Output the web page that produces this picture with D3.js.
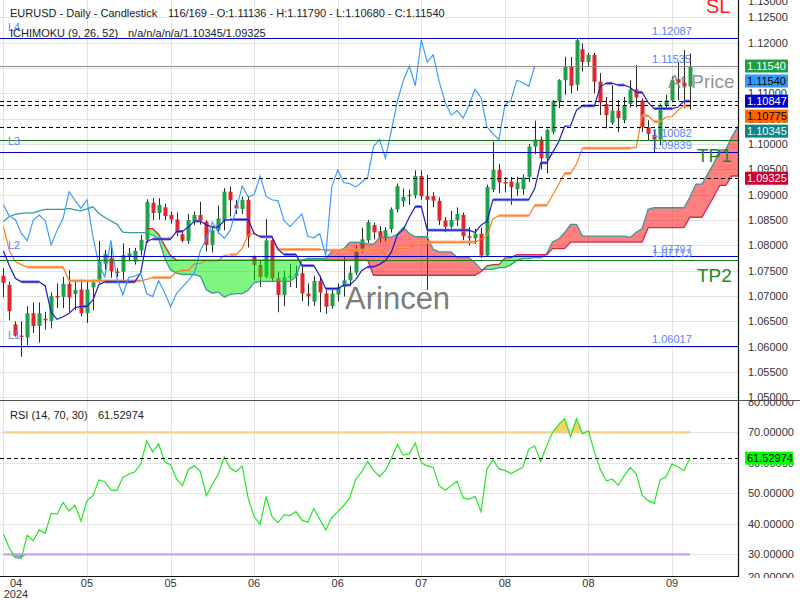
<!DOCTYPE html>
<html><head><meta charset="utf-8">
<script src="https://cdn.jsdelivr.net/npm/d3@7"></script>
<style>
html,body{margin:0;padding:0;background:#fff;}
svg{display:block;font-family:"Liberation Sans",Arial,sans-serif;}
</style></head><body>
<svg id="chart" width="800" height="600"></svg>
<script>
// ---------------- DATA ----------------
const openP = [1.0740,1.0722,1.0644,1.0622,1.0618,1.0666,1.0641,1.0655,1.0651,1.0700,
 1.0698,1.0724,1.0704,1.0713,1.0666,1.0717,1.0730,1.0764,1.0775,1.0748,
 1.0748,1.0779,1.0768,1.0790,1.0811,1.0884,1.0864,1.0875,1.0860,1.0851,
 1.0822,1.0809,1.0847,1.0860,1.0847,1.0801,1.0830,1.0849,1.0906,1.0880,
 1.0872,1.0890,1.0778,1.0761,1.0738,1.0810,1.0735,1.0702,1.0737,1.0739,
 1.0745,1.0705,1.0689,1.0730,1.0705,1.0680,1.0703,1.0718,1.0731,1.0746,
 1.0790,1.0810,1.0840,1.0828,1.0814,1.0832,1.0871,1.0887,1.0897,1.0899,
 1.0937,1.0897,1.0897,1.0888,1.0849,1.0837,1.0850,1.0860,1.0818,1.0814,
 1.0823,1.0780,1.0910,1.0949,1.0925,1.0926,1.0911,1.0911,1.0935,1.0995,
 1.1009,1.0972,1.1024,1.1084,1.1126,1.1154,1.1117,1.1187,1.1162,1.1176,
 1.1123,1.1079,1.1042,1.1066,1.1047,1.1079,1.1108,1.1086,1.1033,1.1018,
 1.1009,1.1077,1.1086,1.1128,1.1121,1.11136];
const highP = [1.0755,1.0728,1.0650,1.0650,1.0680,1.0687,1.0687,1.0669,1.0707,1.0725,
 1.0738,1.0751,1.0731,1.0733,1.0732,1.0733,1.0809,1.0791,1.0800,1.0755,
 1.0804,1.0795,1.0795,1.0820,1.0891,1.0893,1.0893,1.0882,1.0867,1.0865,
 1.0830,1.0862,1.0867,1.0886,1.0850,1.0838,1.0879,1.0913,1.0916,1.0890,
 1.0896,1.0896,1.0780,1.0771,1.0852,1.0812,1.0748,1.0750,1.0764,1.0760,
 1.0762,1.0725,1.0740,1.0740,1.0715,1.0712,1.0725,1.0778,1.0760,1.0800,
 1.0835,1.0850,1.0845,1.0838,1.0836,1.0875,1.0922,1.0912,1.0910,1.0948,
 1.0948,1.0939,1.0905,1.0895,1.0856,1.0868,1.0875,1.0865,1.0836,1.0833,
 1.0835,1.0920,1.1005,1.0961,1.0935,1.0935,1.0935,1.0940,1.1000,1.1046,
 1.1015,1.1030,1.1087,1.1128,1.1172,1.1172,1.12087,1.1199,1.1180,1.1180,
 1.1140,1.1093,1.1116,1.1087,1.1093,1.1126,1.1156,1.1090,1.1047,1.1028,
 1.1080,1.1097,1.1133,1.1162,1.11855,1.11790];
const lowP = [1.0698,1.0652,1.0620,1.0580,1.0603,1.0627,1.0608,1.0634,1.0636,1.0676,
 1.0676,1.0669,1.0672,1.0660,1.0647,1.0672,1.0725,1.0751,1.0736,1.0738,
 1.0732,1.0768,1.0762,1.0780,1.0805,1.0850,1.0851,1.0850,1.0843,1.0818,
 1.0806,1.0803,1.0840,1.0841,1.0788,1.0786,1.0823,1.0830,1.0857,1.0862,
 1.0862,1.0796,1.0731,1.0718,1.0735,1.0728,1.0668,1.0680,1.0718,1.0716,
 1.0690,1.0680,1.0680,1.0668,1.0665,1.0675,1.0690,1.0699,1.0720,1.0741,
 1.0785,1.0805,1.0812,1.0805,1.0808,1.0825,1.0865,1.0876,1.0880,1.0893,
 1.0890,1.0712,1.0875,1.0840,1.0826,1.0833,1.0838,1.0810,1.0800,1.0803,
 1.0775,1.0778,1.0905,1.0903,1.0905,1.0880,1.0898,1.0900,1.0925,1.0980,
 1.0950,1.0942,1.1020,1.1071,1.1097,1.1100,1.1105,1.1143,1.1153,1.1100,
 1.1057,1.1031,1.1038,1.1024,1.1041,1.1072,1.1072,1.1024,1.1008,1.09839,
 1.0998,1.1070,1.1084,1.1086,1.1070,1.10680];
const closeP = [1.0726,1.0670,1.0622,1.0619,1.0666,1.0641,1.0666,1.0652,1.0700,1.0697,
 1.0724,1.0697,1.0712,1.0666,1.0713,1.0727,1.0768,1.0783,1.0749,1.0746,
 1.0781,1.0784,1.0789,1.0811,1.0886,1.0864,1.0880,1.0858,1.0851,1.0824,
 1.0809,1.0850,1.0860,1.0849,1.0801,1.0830,1.0853,1.0906,1.0889,1.0873,
 1.0890,1.0817,1.0761,1.0738,1.0810,1.0735,1.0702,1.0737,1.0739,1.0745,
 1.0705,1.0699,1.0730,1.0707,1.0679,1.0705,1.0718,1.0731,1.0746,1.0790,
 1.0812,1.0846,1.0826,1.0814,1.0830,1.0871,1.0917,1.0896,1.0900,1.0937,
 1.0897,1.0890,1.0888,1.0849,1.0837,1.0850,1.0862,1.0818,1.0815,1.0823,
 1.0780,1.0915,1.0949,1.0924,1.0922,1.0915,1.0924,1.0934,1.0995,1.1009,
 1.0972,1.1028,1.1085,1.1126,1.1154,1.1115,1.1205,1.1162,1.1176,1.1123,
 1.1082,1.1057,1.1066,1.1051,1.1077,1.1108,1.1092,1.1034,1.1020,1.1009,
 1.1077,1.1086,1.1126,1.1121,1.1114,1.11540];

const tenkan = [1.0789,1.0760,1.0735,1.0728,1.0728,1.0728,1.0728,1.0720,1.06675,1.0654,
 1.0659,1.06655,1.0677,1.06795,1.06795,1.06925,1.07225,1.0728,1.0728,1.0728,
 1.0728,1.0728,1.0728,1.0746,1.0808,1.08125,1.08125,1.08125,1.08125,1.08275,
 1.08275,1.08365,1.0848,1.0848,1.08405,1.0836,1.0836,1.08495,1.0851,1.0851,
 1.0851,1.0851,1.08235,1.0817,1.0817,1.0817,1.0792,1.0782,1.0782,1.0782,
 1.0760,1.0760,1.0760,1.0740,1.07145,1.07145,1.07145,1.07215,1.07215,1.07325,
 1.0750,1.07575,1.07575,1.07625,1.0770,1.0787,1.0821,1.08315,1.0856,1.08765,
 1.08765,1.0830,1.0830,1.0830,1.0830,1.0830,1.0830,1.0830,1.0830,1.08255,
 1.0840,1.08475,1.0890,1.0890,1.0890,1.0890,1.0890,1.0890,1.0890,1.0912,
 1.0963,1.0963,1.09835,1.1004,1.1035,1.1036,1.10669,1.10754,1.10754,1.10754,
 1.11144,1.11199,1.11199,1.11164,1.11164,1.11115,1.1102,1.1102,1.1082,1.1070,
 1.1070,1.1070,1.1070,1.1073,1.10847,1.10847];
const kijun = [1.0837,1.0790,1.0768,1.0762,1.0757,1.0757,1.0757,1.0757,1.0757,1.0757,
 1.0757,1.0730,1.0730,1.0730,1.0730,1.0730,1.0730,1.0730,1.0730,1.0730,
 1.0730,1.0730,1.0730,1.0730,1.0733,1.07365,1.07365,1.07365,1.07365,1.0748,
 1.07505,1.07505,1.07635,1.07645,1.0770,1.0770,1.0770,1.0780,1.07815,1.07815,
 1.0794,1.08205,1.08235,1.0817,1.0817,1.0817,1.0792,1.0792,1.0792,1.0792,
 1.0792,1.0792,1.0792,1.0792,1.07905,1.07905,1.07905,1.07905,1.07905,1.07905,
 1.07905,1.07905,1.07905,1.07905,1.07805,1.07805,1.07935,1.07935,1.07935,1.08065,
 1.08065,1.08065,1.08065,1.08065,1.08065,1.08065,1.08065,1.08065,1.08065,1.08065,
 1.08115,1.0819,1.0852,1.08585,1.08585,1.08585,1.08585,1.08585,1.08585,1.0879,
 1.0879,1.0879,1.08995,1.0920,1.0942,1.0942,1.09604,1.09919,1.09919,1.09919,
 1.09919,1.09919,1.09919,1.09919,1.09919,1.09919,1.09934,1.10559,1.10559,1.10444,
 1.10444,1.10534,1.10544,1.10669,1.10754,1.10754];
// cloud spans, indexed by bar position (includes 26 bars projected ahead)
const spanA = [1.0847,1.0857,1.0861,1.0863,1.0864,1.0864,1.0868,1.0871,1.0871,1.0871,
 1.0871,1.0873,1.0870,1.0868,1.0872,1.0876,1.0863,1.0855,1.0848,1.0842,
 1.0826,1.0825,1.0825,1.0825,1.0825,1.0820,1.0813,1.0775,1.07515,1.0745,
 1.07425,1.07425,1.07425,1.07385,1.07123,1.07055,1.0708,1.06978,1.07035,1.07048,
 1.07048,1.07113,1.07263,1.0729,1.0729,1.0729,1.0729,1.0729,1.0729,1.0738,
 1.07705,1.07745,1.07745,1.07745,1.07745,1.07878,1.0789,1.07935,1.08058,1.08063,
 1.08053,1.0803,1.0803,1.08148,1.08163,1.08163,1.08225,1.08358,1.08235,1.0817,
 1.0817,1.0817,1.0792,1.0787,1.0787,1.0787,1.0776,1.0776,1.0776,1.0766,
 1.07525,1.07525,1.07525,1.0756,1.0756,1.07615,1.07703,1.0774,1.0774,1.07765,
 1.07753,1.07838,1.08073,1.08125,1.08248,1.08415,1.08415,1.08183,1.08183,1.08183,
 1.08183,1.08183,1.08183,1.08183,1.08183,1.0816,1.08258,1.08333,1.0871,1.08743,
 1.08743,1.08743,1.08743,1.08743,1.08743,1.08955,1.0921,1.0921,1.09415,1.0962,
 1.09885,1.0989,1.10137,1.10337,1.10337];
const spanB = [null,null,null,null,null,null,null,null,null,null,
 null,null,null,null,null,null,null,null,null,null,
 null,null,null,null,1.0833,1.0833,1.0822,1.0800,1.0780,1.0771,
 1.0771,1.0771,1.0771,1.0771,1.0771,1.0771,1.0771,1.0771,1.0771,1.0771,
 1.0771,1.0771,1.0771,1.0771,1.0771,1.0771,1.0771,1.0771,1.0771,1.0771,
 1.0771,1.0771,1.0771,1.0771,1.0771,1.0771,1.0771,1.0771,1.0771,1.0771,
 1.0771,1.0771,1.0741,1.0741,1.0741,1.0741,1.0741,1.0741,1.0741,1.0741,
 1.0741,1.0741,1.0741,1.0741,1.0741,1.0741,1.0741,1.0741,1.0741,1.0741,
 1.0748,1.07595,1.0762,1.0762,1.0775,1.0776,1.07815,1.07815,1.07815,1.07815,
 1.07815,1.07815,1.07935,1.07935,1.07935,1.08065,1.08065,1.08065,1.08065,1.08065,
 1.08065,1.08065,1.08065,1.08065,1.08065,1.08065,1.08065,1.08065,1.0835,1.0835,
 1.0835,1.0835,1.0835,1.0835,1.0835,1.08555,1.08555,1.08555,1.0876,1.08965,
 1.09185,1.09185,1.09369,1.09369,1.09369];
const rsiValues = [36.7,32.0,28.9,28.7,36.3,34.4,38.0,36.9,43.4,43.2,
 47.0,44.2,46.1,40.9,47.6,49.2,54.4,53.8,51.1,50.9,
 55.2,56.3,57.0,59.6,67.2,63.6,66.2,60.4,59.3,54.7,
 52.5,57.9,59.0,57.1,49.2,52.9,56.3,62.0,58.2,57.1,
 59.0,48.4,42.3,39.8,48.9,42.3,40.4,42.9,42.7,44.0,
 41.2,40.5,45.0,41.5,38.0,42.0,44.0,46.0,48.5,54.5,
 57.0,60.5,57.5,55.5,57.5,61.5,66.0,62.5,63.0,66.5,
 60.0,59.0,58.5,52.5,51.0,52.5,54.0,48.5,48.0,49.0,
 44.0,58.0,61.0,58.0,57.5,56.5,57.5,58.5,64.5,65.5,
 60.5,65.5,70.0,72.5,74.5,68.5,74.5,69.5,70.5,63.5,
 57.7,54.1,54.6,52.7,55.7,58.5,56.3,49.4,47.6,46.7,
 54.4,55.4,59.6,58.7,57.4,61.52974];

const tickIdx = [0,14,28,42,56,70,84,98,112];
const tickLabels = ["04","05","05","06","06","07","08","08","09"];
const yearLabel = "2024";
const priceTicks = [1.050,1.055,1.060,1.065,1.070,1.075,1.080,1.085,1.090,1.095,1.100,1.105,1.110,1.115,1.120,1.125,1.130];
const rsiTicks = [20,30,40,50,60,70,80];
const levelNames = ["L4","L3","L2","L1"];
const levelValues = [1.12087,1.09839,1.07797,1.06017];
const tpNames = ["TP1","TP2"];
const tpValues = [1.10082,1.07713];
const atPriceValue = 1.11535;
const dashedValues = [1.10847,1.10775,1.10345,1.09325];
const boxValues = [1.11540,1.11540,1.10847,1.10775,1.10345,1.09325];
const boxFills = ["#1f9e48","#3399ff","#0000cc","#ff6600","#0e8585","#cc0033"];
const boxText = ["#ffffff","#000000","#ffffff","#000000","#e8ffff","#ffffff"];
const rsiLast = 61.52974;
const headerText = ["EURUSD - Daily - Candlestick","116/169 - O:1.11136 - H:1.11790 - L:1.10680 - C:1.11540"];
const ichiText = ["ICHIMOKU (9, 26, 52)","n/a/n/a/n/a/1.10345/1.09325"];
const rsiText = ["RSI (14, 70, 30)","61.52974"];

// ---------------- SCALES ----------------
const plotR = 738, mainBot = 400, rsiBot = 576;
const x = d3.scaleLinear().domain([0,123]).range([3.4, 3.4+5.97*123]);
const y = d3.scaleLinear().domain([1.04948,1.12843]).range([400,0]);
const yr = d3.scaleLinear().domain([22.89,80.59]).range([576,400]);

const svg = d3.select("#chart");
const defs = svg.append("defs");
defs.append("clipPath").attr("id","clipMain").append("rect").attr("x",0).attr("y",0).attr("width",plotR).attr("height",mainBot);
defs.append("clipPath").attr("id","clipRsi").append("rect").attr("x",0).attr("y",400).attr("width",plotR).attr("height",rsiBot-400);
defs.append("clipPath").attr("id","clipRsiLab").append("rect").attr("x",740).attr("y",401).attr("width",60).attr("height",177);

// grid
const grid = svg.append("g");
grid.selectAll(".vg").data(tickIdx).join("line")
  .attr("x1",d=>Math.round(x(d))+0.5).attr("x2",d=>Math.round(x(d))+0.5)
  .attr("y1",0).attr("y2",rsiBot).attr("stroke","#e3e3e3");
grid.selectAll(".hg").data(priceTicks).join("line")
  .attr("x1",0).attr("x2",plotR).attr("y1",d=>Math.round(y(d))+0.5).attr("y2",d=>Math.round(y(d))+0.5)
  .attr("stroke","#e3e3e3");
grid.selectAll(".rg").data(rsiTicks.filter(v=>v>=30&&v<=70)).join("line")
  .attr("x1",0).attr("x2",plotR).attr("y1",d=>Math.round(yr(d))+0.5).attr("y2",d=>Math.round(yr(d))+0.5)
  .attr("stroke","#e3e3e3");

// ---------------- MAIN PANEL ----------------
const main = svg.append("g").attr("clip-path","url(#clipMain)");
const idx = d3.range(closeP.length);
const green = "#1fa04a", red = "#e0262b";
const cg = main.append("g");
cg.selectAll("line").data(idx).join("line")
  .attr("x1",i=>Math.round(x(i))+0.5).attr("x2",i=>Math.round(x(i))+0.5)
  .attr("y1",i=>y(highP[i])).attr("y2",i=>y(lowP[i]))
  .attr("stroke","#2a2a2a").attr("stroke-width",1);
cg.selectAll("rect").data(idx).join("rect")
  .attr("x",i=>Math.round(x(i))-1.5).attr("width",4)
  .attr("y",i=>y(Math.max(openP[i],closeP[i])))
  .attr("height",i=>Math.max(1.2,Math.abs(y(openP[i])-y(closeP[i]))))
  .attr("fill",i=>closeP[i]>=openP[i]?green:red);

// cloud
const cloudPts = [];
spanA.forEach((a,j)=>{ if(spanB[j]!=null) cloudPts.push({j:j,a:a,b:spanB[j]}); });
const segs = []; let cur = null;
cloudPts.forEach(p=>{
  const s = p.a >= p.b ? "red" : "green";
  if(!cur){ cur = {s:s, pts:[p]}; return; }
  if(s===cur.s){ cur.pts.push(p); return; }
  const q = cur.pts[cur.pts.length-1];
  const d0 = q.a-q.b, d1 = p.a-p.b;
  const t = d0/(d0-d1);
  const c = {j:q.j+t*(p.j-q.j), a:q.a+t*(p.a-q.a)}; c.b = c.a;
  cur.pts.push(c); segs.push(cur); cur = {s:s, pts:[c,p]};
});
if(cur) segs.push(cur);
const cloudArea = d3.area().x(d=>x(d.j)).y0(d=>y(d.b)).y1(d=>y(d.a));
main.append("g").selectAll("path").data(segs).join("path")
  .attr("d",d=>cloudArea(d.pts))
  .attr("fill",d=>d.s==="red"?"#ff0000":"#00ee00")
  .attr("fill-opacity",0.5);
const lineJ = (arr)=> d3.line().defined(d=>d!=null).x((d,i)=>x(i)).y(d=>y(d))(arr);
main.append("path").attr("d",lineJ(spanA)).attr("fill","none").attr("stroke","#3a9a98").attr("stroke-width",1.3);
main.append("path").attr("d",lineJ(spanB)).attr("fill","none").attr("stroke","#d02a55").attr("stroke-width",1.3);

// flat-run highlights for tenkan / kijun
function flats(arr){ const r=[]; for(let i=0;i<arr.length-1;i++){ if(arr[i]===arr[i+1]) r.push(i);} return r; }
main.append("g").selectAll("line").data(flats(kijun)).join("line")
  .attr("x1",i=>x(i)).attr("x2",i=>x(i+1)).attr("y1",i=>y(kijun[i])).attr("y2",i=>y(kijun[i]))
  .attr("stroke","#ffa46a").attr("stroke-width",3).attr("stroke-opacity",0.85);
main.append("path").attr("d",lineJ(kijun)).attr("fill","none").attr("stroke","#ff7a22").attr("stroke-width",1.2);
main.append("g").selectAll("line").data(flats(tenkan)).join("line")
  .attr("x1",i=>x(i)).attr("x2",i=>x(i+1)).attr("y1",i=>y(tenkan[i])).attr("y2",i=>y(tenkan[i]))
  .attr("stroke","#7676ea").attr("stroke-width",3).attr("stroke-opacity",0.9);
main.append("path").attr("d",lineJ(tenkan)).attr("fill","none").attr("stroke","#1a1ac8").attr("stroke-width",1.2);
// chikou: close shifted 26 bars back
const chikou = d3.line().x((d,k)=>x(k)).y(d=>y(d))(closeP.slice(26));
main.append("path").attr("d",chikou).attr("fill","none").attr("stroke","#3d9dff").attr("stroke-width",1.2);

// horizontal levels
const hl = main.append("g");
const hy = v => Math.round(y(v))+0.5;
hl.selectAll(".dash").data(dashedValues).join("line")
  .attr("x1",0).attr("x2",plotR).attr("y1",hy).attr("y2",hy)
  .attr("stroke","#000").attr("stroke-dasharray","4,3");
hl.append("line").attr("x1",0).attr("x2",plotR).attr("y1",hy(atPriceValue)).attr("y2",hy(atPriceValue)).attr("stroke","#8c8c8c").attr("stroke-width",1.2);
hl.selectAll(".tp").data(tpValues).join("line")
  .attr("x1",0).attr("x2",plotR).attr("y1",hy).attr("y2",hy).attr("stroke","#1a7a1a").attr("stroke-width",1.2);
hl.selectAll(".lv").data(levelValues).join("line")
  .attr("x1",0).attr("x2",plotR).attr("y1",hy).attr("y2",hy).attr("stroke","#0000cc").attr("stroke-width",1.2);

// level texts
const lvlColor = "#5a82ff";
main.append("g").selectAll("text").data(levelValues).join("text")
  .attr("x",8).attr("y",v=>y(v)-7).attr("font-size",11).attr("fill",lvlColor).text((v,i)=>levelNames[i]);
const rightVals = [levelValues[0],atPriceValue,tpValues[0],levelValues[1],levelValues[2],tpValues[1],levelValues[3]];
main.append("g").selectAll("text").data(rightVals).join("text")
  .attr("x",652).attr("y",v=>y(v)-3).attr("font-size",11).attr("fill",lvlColor).text(v=>v.toFixed(5));
main.append("text").attr("x",706).attr("y",13).attr("font-size",20).attr("fill","#ff1a1a").text("SL");
main.append("text").attr("x",668).attr("y",88).attr("font-size",19).attr("fill","#808080").attr("fill-opacity",0.85).text("At Price");
main.append("g").selectAll("text").data(tpValues).join("text")
  .attr("x",697).attr("y",v=>y(v)+22).attr("font-size",19).attr("fill","#1e8a1e").text((v,i)=>tpNames[i]);
main.append("text").attr("x",345).attr("y",309).attr("font-size",31).attr("fill","#6a6a6a").attr("fill-opacity",0.9).text("Arincen");

// header texts
svg.append("text").attr("x",10).attr("y",17).attr("font-size",11).attr("fill","#222").text(headerText[0]);
svg.append("text").attr("x",168).attr("y",17).attr("font-size",11).attr("fill","#222").text(headerText[1]);
svg.append("text").attr("x",10).attr("y",37).attr("font-size",11).attr("fill","#222").text(ichiText[0]);
svg.append("text").attr("x",128).attr("y",37).attr("font-size",11).attr("fill","#222").text(ichiText[1]);

// ---------------- RSI PANEL ----------------
const rg = svg.append("g").attr("clip-path","url(#clipRsi)");
const rIdx = d3.range(rsiValues.length);
const obArea = d3.area().x(i=>x(i)).y0(yr(70)).y1(i=>yr(Math.max(70,rsiValues[i])));
const osArea = d3.area().x(i=>x(i)).y0(yr(30)).y1(i=>yr(Math.min(30,rsiValues[i])));
rg.append("path").attr("d",obArea(rIdx)).attr("fill","#f2c23a").attr("fill-opacity",0.75);
rg.append("path").attr("d",osArea(rIdx)).attr("fill","#9a6ae6").attr("fill-opacity",0.75);
rg.append("line").attr("x1",x(0)).attr("x2",x(rsiValues.length-1)).attr("y1",yr(70)).attr("y2",yr(70)).attr("stroke","#f7cf8a").attr("stroke-width",2.2);
rg.append("line").attr("x1",x(0)).attr("x2",x(rsiValues.length-1)).attr("y1",yr(30)).attr("y2",yr(30)).attr("stroke","#c5a2f2").attr("stroke-width",2.2);
rg.append("path").attr("d",d3.line().x((d,i)=>x(i)).y(d=>yr(d))(rsiValues)).attr("fill","none").attr("stroke","#22e622").attr("stroke-width",1.2);
rg.append("line").attr("x1",0).attr("x2",plotR).attr("y1",Math.round(yr(rsiLast))+0.5).attr("y2",Math.round(yr(rsiLast))+0.5)
  .attr("stroke","#000").attr("stroke-dasharray","4,3");
svg.append("text").attr("x",10).attr("y",419).attr("font-size",11).attr("fill","#222").text(rsiText[0]);
svg.append("text").attr("x",98).attr("y",419).attr("font-size",11).attr("fill","#222").text(rsiText[1]);

// ---------------- AXES / FRAME ----------------
svg.append("line").attr("x1",0).attr("x2",800).attr("y1",400.5).attr("y2",400.5).attr("stroke","#555");
svg.append("line").attr("x1",plotR+0.5).attr("x2",plotR+0.5).attr("y1",0).attr("y2",rsiBot+1).attr("stroke","#111").attr("stroke-width",1.2);
svg.append("line").attr("x1",0).attr("x2",plotR+1).attr("y1",rsiBot+0.5).attr("y2",rsiBot+0.5).attr("stroke","#111").attr("stroke-width",1.2);

// price tick labels
svg.append("g").selectAll("text").data(priceTicks).join("text")
  .attr("x",748).attr("y",d=>Math.max(1,y(d))).attr("dy","0.35em")
  .attr("font-size",11).attr("fill","#333").text(d=>d.toFixed(5));
// rsi tick labels
svg.append("g").attr("clip-path","url(#clipRsiLab)").selectAll("text").data(rsiTicks).join("text")
  .attr("x",748).attr("y",d=>Math.min(577,yr(d))).attr("dy","0.35em")
  .attr("font-size",11).attr("fill","#333").text(d=>d.toFixed(5));

// value boxes (stacked to avoid overlap)
const boxes = boxValues.map((v,k)=>({v:v,k:k,cy:y(v)}));
boxes.sort((a,b)=>a.cy-b.cy);
for(let k=1;k<boxes.length;k++){ if(boxes[k].cy < boxes[k-1].cy+15) boxes[k].cy = boxes[k-1].cy+15; }
const bg = svg.append("g");
bg.selectAll("rect").data(boxes).join("rect")
  .attr("x",745).attr("width",43).attr("y",d=>d.cy-6.5).attr("height",13).attr("fill",d=>boxFills[d.k]);
bg.selectAll("text").data(boxes).join("text")
  .attr("x",747).attr("y",d=>d.cy).attr("dy","0.35em").attr("font-size",11)
  .attr("fill",d=>boxText[d.k]).text(d=>d.v.toFixed(5));
const rcy = yr(rsiLast);
svg.append("rect").attr("x",745).attr("width",48).attr("y",rcy-6.5).attr("height",13).attr("fill","#00ff00");
svg.append("text").attr("x",747).attr("y",rcy).attr("dy","0.35em").attr("font-size",11).attr("fill","#000").text(rsiLast.toFixed(5));

// x-axis labels
svg.append("g").selectAll("text").data(tickIdx).join("text")
  .attr("x",(d,k)=>k===0?16:x(d)).attr("y",587).attr("text-anchor","middle")
  .attr("font-size",11).attr("fill","#333").text((d,k)=>tickLabels[k]);
svg.append("text").attr("x",16).attr("y",598).attr("text-anchor","middle").attr("font-size",11).attr("fill","#333").text(yearLabel);
</script>
</body></html>
